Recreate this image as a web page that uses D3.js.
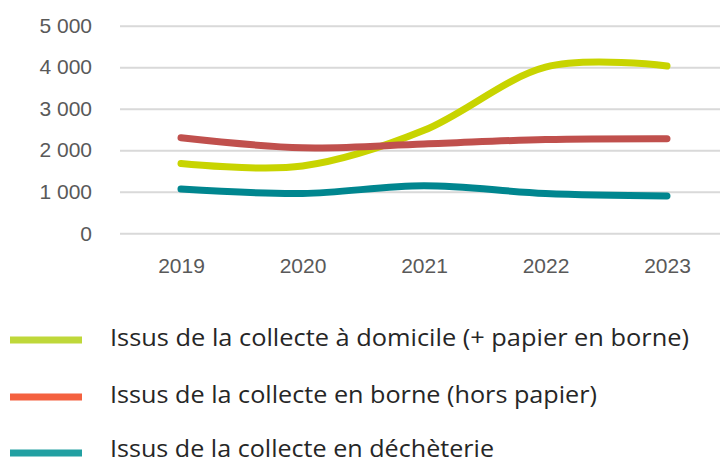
<!DOCTYPE html>
<html>
<head>
<meta charset="utf-8">
<script src="https://cdn.jsdelivr.net/npm/d3@7"></script>
<style>
  html, body { margin: 0; padding: 0; background: #fff; }
  svg { display: block; font-family: "Open Sans", "Noto Sans", sans-serif; }
  .axis text { fill: #595959; font-size: 21px; }
  .axis.y line { stroke: #d9d9d9; stroke-width: 2; }
  .legend text { fill: #262626; font-size: 23.5px; }
</style>
</head>
<body>
<svg id="chart" width="720" height="463"></svg>
<script>
// data
const years = ["2019", "2020", "2021", "2022", "2023"];
const domicile = [1680, 1620, 2480, 4000, 4030];
const borne = [2300, 2060, 2150, 2260, 2280];
const decheterie = [1065, 960, 1145, 960, 900];
const yTicks = [0, 1000, 2000, 3000, 4000, 5000];
const seriesNames = [
  "Issus de la collecte à domicile (+ papier en borne)",
  "Issus de la collecte en borne (hors papier)",
  "Issus de la collecte en déchèterie"
];
const lineColors = ["#c8d400", "#c0504d", "#00868f"];
const legendColors = ["#bfd83a", "#f4613f", "#22a0a2"];

const series = [domicile, borne, decheterie].map((vals, i) => ({
  name: seriesNames[i],
  color: lineColors[i],
  legendColor: legendColors[i],
  values: vals.map((v, j) => ({ year: years[j], value: v }))
}));

const svg = d3.select("#chart");
const fr = d3.formatLocale({ decimal: ",", thousands: " ", grouping: [3], currency: ["", " €"] });

const x = d3.scalePoint().domain(years).range([181, 667]);
const y = d3.scaleLinear().domain([0, 5000]).range([233.3, 25.7]);

// y axis + gridlines
const yAxis = d3.axisLeft(y)
  .tickValues(yTicks)
  .tickFormat(fr.format(",d"))
  .tickSizeInner(-600)
  .tickSizeOuter(0)
  .tickPadding(28);

svg.append("g")
  .attr("class", "axis y")
  .attr("transform", "translate(120,0)")
  .call(yAxis)
  .call(g => g.select(".domain").remove());

// x axis labels
const xAxis = d3.axisBottom(x).tickSize(0).tickPadding(25);
svg.append("g")
  .attr("class", "axis x")
  .attr("transform", `translate(0,${y(0)})`)
  .call(xAxis)
  .call(g => g.select(".domain").remove());

// smoothed lines
const line = d3.line()
  .x(d => x(d.year))
  .y(d => y(d.value))
  .curve(d3.curveCardinal.tension(0));

svg.append("g").selectAll("path")
  .data(series)
  .join("path")
  .attr("fill", "none")
  .attr("stroke", d => d.color)
  .attr("stroke-width", 7)
  .attr("stroke-linecap", "round")
  .attr("stroke-linejoin", "round")
  .attr("d", d => line(d.values));

// legend
const legendY = [340, 397, 453];
const legendLen = [579, 487, 384];
const legend = svg.append("g").attr("class", "legend")
  .selectAll("g")
  .data(series)
  .join("g")
  .attr("transform", (d, i) => `translate(0,${legendY[i]})`);

legend.append("line")
  .attr("x1", 10).attr("x2", 82)
  .attr("stroke", d => d.legendColor)
  .attr("stroke-width", 7);

// last row sits right at the bottom edge, keep it inside the frame
legend.append("text")
  .attr("x", 110)
  .attr("y", (d, i) => i === 2 ? 3.5 : 5.5)
  .attr("textLength", (d, i) => legendLen[i])
  .attr("lengthAdjust", "spacingAndGlyphs")
  .text(d => d.name);
</script>
</body>
</html>
